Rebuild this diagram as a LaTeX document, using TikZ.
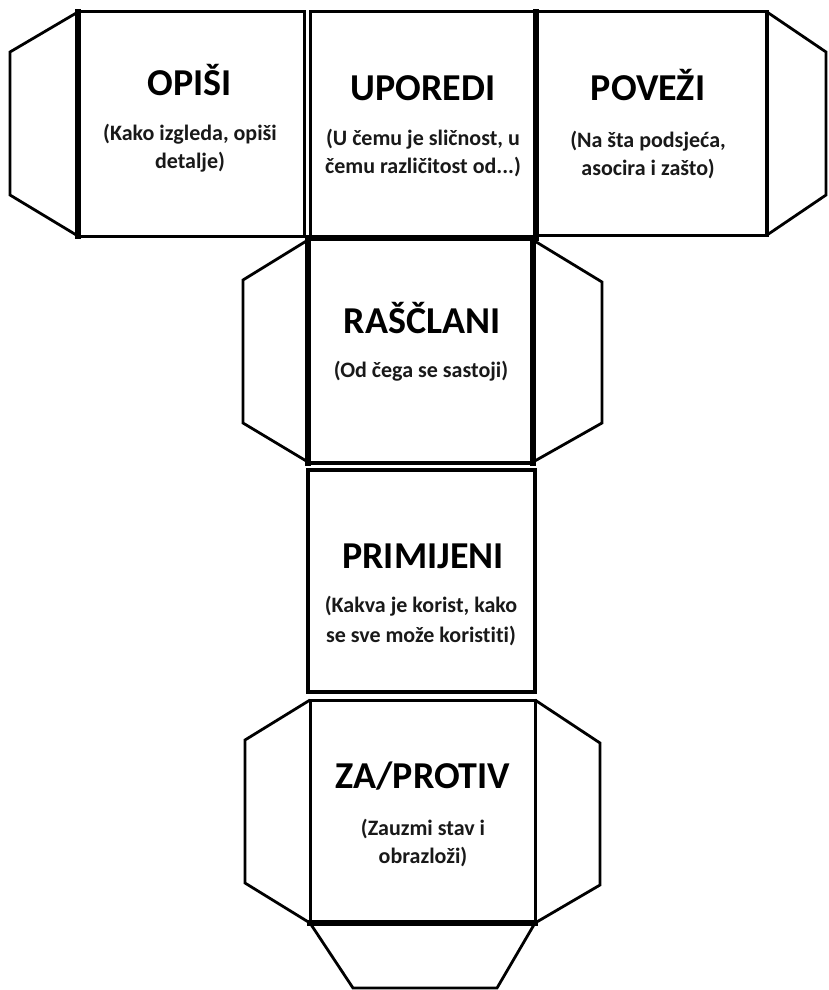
\documentclass[tikz,border=0pt]{standalone}
\usepackage{fontspec}
\setmainfont{Carlito}[Ligatures=NoCommon]
\begin{document}
\begin{tikzpicture}[x=1pt,y=-1pt,
  edge/.style={draw=black, line width=3pt, line cap=rect},
  thickedge/.style={draw=black, line width=5.5pt, line cap=rect},
  flap/.style={draw=black, line width=2.8pt, line join=miter},
  title/.style={font=\bfseries\fontsize{38}{42}\selectfont, anchor=base, inner sep=0pt, text=black},
  sub/.style={font=\bfseries\fontsize{22}{27}\selectfont, anchor=base, inner sep=0pt, text=black!90}
]
\useasboundingbox (0,0) rectangle (828,990);
\fill[white] (0,0) rectangle (828,990);

% ---------- flaps ----------
\draw[flap] (78,12) -- (10,52) -- (10,195) -- (78,236);
\draw[flap] (767,12) -- (826,52) -- (826,195) -- (767,235);
\draw[flap] (308,240) -- (243,280) -- (243,423) -- (308,462);
\draw[flap] (533,240) -- (602,282) -- (602,423) -- (533,462);
\draw[flap] (310,700) -- (245,740) -- (245,883) -- (310,923);
\draw[flap] (535,700) -- (600,743) -- (600,885) -- (535,923);
\draw[flap] (310,923) -- (353,988) -- (497,988) -- (535,923);

% ---------- faces ----------
% OPISI
\draw[edge] (78,12) rectangle (304,236);
\draw[thickedge] (78,12) -- (78,236);
% UPOREDI
\draw[edge] (310,12) rectangle (536,237);
\draw[thickedge] (536,12) -- (536,237);
\draw[thickedge] (310,238) -- (536,238);
% POVEZI
\draw[edge] (536,12) rectangle (767,235);
\draw[line width=4pt] (767,12) -- (767,235);
% RASCLANI
\draw[edge] (308,238) rectangle (533,463);
\draw[thickedge] (308,238) -- (308,463);
\draw[thickedge] (533,238) -- (533,463);
\draw[line width=4.5pt] (308,463) -- (533,463);
% PRIMIJENI
\draw[line width=3.8pt] (308,470) rectangle (535,692);
% ZA/PROTIV
\draw[edge] (310,700) rectangle (535,923);
\draw[thickedge] (310,923) -- (535,923);

% ---------- texts ----------
\node[title] (t1) at (190,95) {OPIŠI};
\node[sub] (s1a) at (190,140) {(Kako izgleda, opiši};
\node[sub] (s1b) at (190,168) {detalje)};

\node[title] (t2) at (423,100) {UPOREDI};
\node[sub] (s2a) at (423,145) {(U čemu je sličnost, u};
\node[sub] (s2b) at (423,173) {čemu različitost od...)};

\node[title] (t3) at (648,100) {POVEŽI};
\node[sub] (s3a) at (648,147) {(Na šta podsjeća,};
\node[sub] (s3b) at (648,175) {asocira i zašto)};

\node[title] (t4) at (422,333) {RAŠČLANI};
\node[sub] (s4a) at (421,377) {(Od čega se sastoji)};

\node[title] (t5) at (423,568) {PRIMIJENI};
\node[sub] (s5a) at (421,612) {(Kakva je korist, kako};
\node[sub] (s5b) at (421,642) {se sve može koristiti)};

\node[title] (t6) at (423,788) {ZA/PROTIV};
\node[sub] (s6a) at (423,835) {(Zauzmi stav i};
\node[sub] (s6b) at (423,863) {obrazloži)};
\end{tikzpicture}
\end{document}
